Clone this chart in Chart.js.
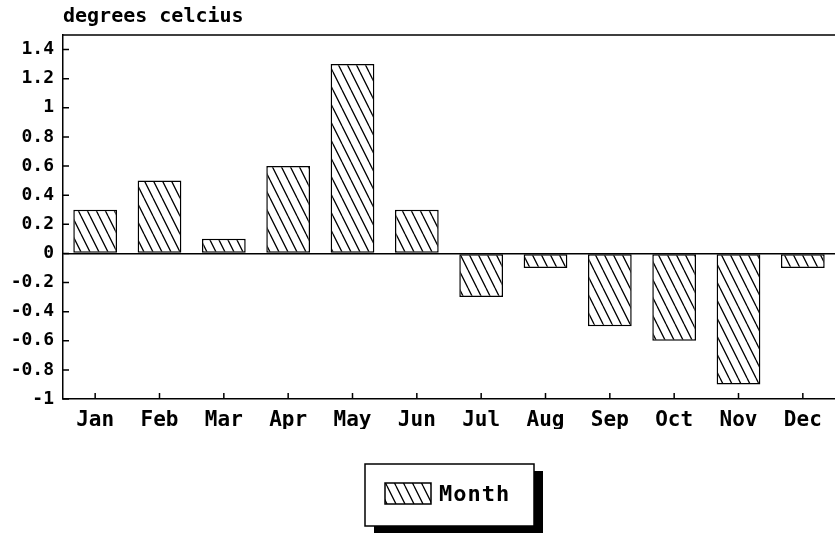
<!DOCTYPE html>
<html><head><meta charset="utf-8">
<script src="https://cdn.jsdelivr.net/npm/chart.js@4.4.1/dist/chart.umd.min.js"></script>
<style>html,body{margin:0;padding:0;background:#fff}canvas{display:block}</style>
</head><body>
<canvas id="c" width="835" height="533"></canvas>
<script>
const months = ['Jan','Feb','Mar','Apr','May','Jun','Jul','Aug','Sep','Oct','Nov','Dec'];
const anomalies = [0.3, 0.5, 0.1, 0.6, 1.3, 0.3, -0.3, -0.1, -0.5, -0.6, -0.9, -0.1];
const yTickValues = [-1, -0.8, -0.6, -0.4, -0.2, 0, 0.2, 0.4, 0.6, 0.8, 1, 1.2, 1.4];
const yMin = -1, yMax = 1.5;
const seriesLabel = 'Month';
const axisTitle = 'degrees celcius';

const FONT = '"DejaVu Sans Mono", "Liberation Mono", monospace';

function makeHatch(){
  const t = document.createElement('canvas'); t.width = 9; t.height = 18;
  const g = t.getContext('2d');
  g.fillStyle = '#fff'; g.fillRect(0,0,9,18);
  g.strokeStyle = '#000'; g.lineWidth = 1.3;
  g.beginPath();
  for (const dx of [-9, 0, 9]) { g.moveTo(dx, 0); g.lineTo(dx + 9, 18); }
  g.stroke();
  return g.createPattern(t, 'repeat');
}
const hatch = makeHatch();

const frame = {
  id: 'frame',
  afterDatasetsDraw(chart){
    const {ctx, chartArea: a, scales} = chart;
    ctx.save();
    ctx.strokeStyle = '#000'; ctx.lineWidth = 1.5;
    ctx.beginPath();
    ctx.moveTo(a.left, a.top); ctx.lineTo(chart.width, a.top);
    scales.y.ticks.forEach((t, i) => {
      const py = scales.y.getPixelForTick(i);
      ctx.moveTo(a.left, py); ctx.lineTo(a.left + 6, py);
    });
    scales.x.ticks.forEach((t, i) => {
      const px = scales.x.getPixelForTick(i);
      ctx.moveTo(px, a.bottom); ctx.lineTo(px, a.bottom - 6);
    });
    ctx.stroke();
    ctx.restore();
  }
};

const boxedLegend = {
  id: 'boxedLegend',
  afterDraw(chart){
    const {ctx, chartArea: a} = chart;
    const w = 169, h = 62;
    const cx = (a.left + a.right) / 2;
    const x = Math.round(cx - w / 2), y = Math.round(a.bottom + 65);
    ctx.save();
    ctx.fillStyle = '#000'; ctx.fillRect(x + 9, y + 7, w, h);
    ctx.fillStyle = '#fff'; ctx.fillRect(x, y, w, h);
    ctx.strokeStyle = '#000'; ctx.lineWidth = 1.5; ctx.strokeRect(x, y, w, h);
    ctx.fillStyle = hatch; ctx.fillRect(x + 20, y + 19, 46, 21);
    ctx.strokeRect(x + 20, y + 19, 46, 21);
    ctx.fillStyle = '#000'; ctx.font = 'bold 22px ' + FONT;
    ctx.letterSpacing = '1px';
    ctx.textBaseline = 'middle'; ctx.textAlign = 'left';
    ctx.fillText(chart.data.datasets[0].label, x + 74, y + 31);
    ctx.restore();
  }
};

new Chart(document.getElementById('c'), {
  type: 'bar',
  data: {
    labels: months,
    datasets: [{
      label: seriesLabel,
      data: anomalies,
      backgroundColor: hatch,
      borderColor: '#000',
      borderWidth: 1.5,
      borderSkipped: false,
      categoryPercentage: 1,
      barPercentage: 0.68
    }]
  },
  options: {
    responsive: false,
    animation: false,
    layout: { padding: { left: 0, right: -4, top: 0, bottom: 104 } },
    plugins: {
      legend: { display: false },
      tooltip: { enabled: false },
      title: {
        display: true, text: axisTitle, align: 'start', fullSize: false,
        color: '#000', font: { family: FONT, size: 20, weight: 'bold' },
        padding: { top: 5, bottom: 6 }
      }
    },
    scales: {
      x: {
        grid: { display: false, drawTicks: false },
        border: { display: true, color: '#000', width: 1.5 },
        ticks: { color: '#000', font: { family: FONT, size: 21, weight: 'bold' }, padding: 9, maxRotation: 0 },
        afterFit(s){ s.height = 30; }
      },
      y: {
        min: yMin, max: yMax,
        afterBuildTicks(s){ s.ticks = yTickValues.map(v => ({ value: v })); },
        grid: {
          drawTicks: false,
          color: c => (c.tick && c.tick.value === 0) ? '#000' : 'rgba(0,0,0,0)',
          lineWidth: 1.5
        },
        border: { display: true, color: '#000', width: 1.5 },
        ticks: {
          color: '#000', font: { family: FONT, size: 18, weight: 'bold' }, padding: 9,
          callback: v => String(Math.round(v * 10) / 10)
        },
        afterFit(s){ s.width = 63; }
      }
    }
  },
  plugins: [frame, boxedLegend]
});
</script>
</body></html>
